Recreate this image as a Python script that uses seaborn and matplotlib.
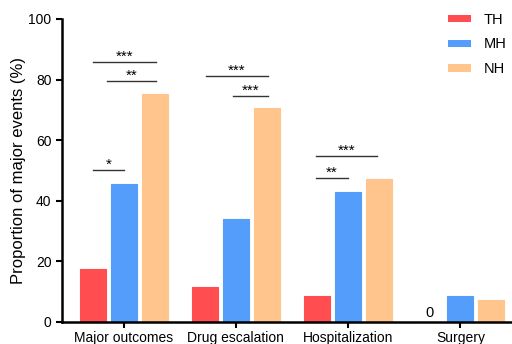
import pandas as pd
import seaborn as sns
import matplotlib.pyplot as plt

# datos
categorias = ["Major outcomes", "Drug escalation", "Hospitalization", "Surgery"]
grupos = ["TH", "MH", "NH"]
th = [17.5, 11.5, 8.6, 0.0]
mh = [45.5, 34.1, 42.8, 8.5]
nh = [75.2, 70.5, 47.1, 7.3]
colores = ["#FF4D50", "#559DFA", "#FFC58D"]

# lineas de significancia: (categoria, x0, x1, y, texto)
sig_cat = [0, 0, 0, 1, 1, 2, 2]
sig_x0 = [-0.27, -0.15, -0.27, -0.27, -0.03, -0.29, -0.29]
sig_x1 = [0.29, 0.29, 0.0, 0.29, 0.29, 0.26, 0.0]
sig_y = [85.9, 79.4, 50.0, 81.2, 74.7, 54.7, 47.5]
sig_txt = ["***", "**", "*", "***", "***", "***", "**"]

df = pd.DataFrame({
    "categoria": categorias * 3,
    "grupo": [g for g in grupos for _ in categorias],
    "valor": th + mh + nh,
})

plt.rcParams["font.family"] = ["Liberation Sans", "DejaVu Sans"]
fig = plt.figure(figsize=(5.12, 3.44), dpi=100)
ax = fig.add_axes([0.121, 0.064, 0.879, 0.881])

sns.barplot(data=df, x="categoria", y="valor", hue="grupo", order=categorias,
            hue_order=grupos, palette=colores, width=0.83, gap=0.16,
            saturation=1, errorbar=None, ax=ax, linewidth=0.8)
for p, c in zip(ax.patches, [c for c in colores for _ in categorias]):
    p.set_edgecolor(c)
    p.set_alpha(1)

for c, x0, x1, y, t in zip(sig_cat, sig_x0, sig_x1, sig_y, sig_txt):
    ax.plot([c + x0, c + x1], [y, y], color="#333333", lw=1.0)
    ax.text(c + (x0 + x1) / 2, y - 0.6, t, ha="center", va="bottom", fontsize=11)

ax.text(3 - 0.277, 0.8, "0", ha="center", va="bottom", fontsize=10.5)

ax.set_xlim(-0.55, 3.46)
ax.set_ylim(0, 100)
ax.set_yticks([0, 20, 40, 60, 80, 100])
ax.set_xlabel("")
ax.set_ylabel("Proportion of major events (%)", fontsize=12, labelpad=2)
ax.tick_params(axis="both", labelsize=10, width=1.5, length=4)
ax.tick_params(axis="x", pad=2.5)
for s in ["top", "right"]:
    ax.spines[s].set_visible(False)
for s in ["left", "bottom"]:
    ax.spines[s].set_linewidth(1.8)

ax.legend(loc="upper right", frameon=False, fontsize=10.5, handlelength=1.6,
          handleheight=0.4, labelspacing=0.75, borderaxespad=0.2,
          handletextpad=0.9, bbox_to_anchor=(1.008, 1.05))

fig.savefig("out.png", dpi=100)
